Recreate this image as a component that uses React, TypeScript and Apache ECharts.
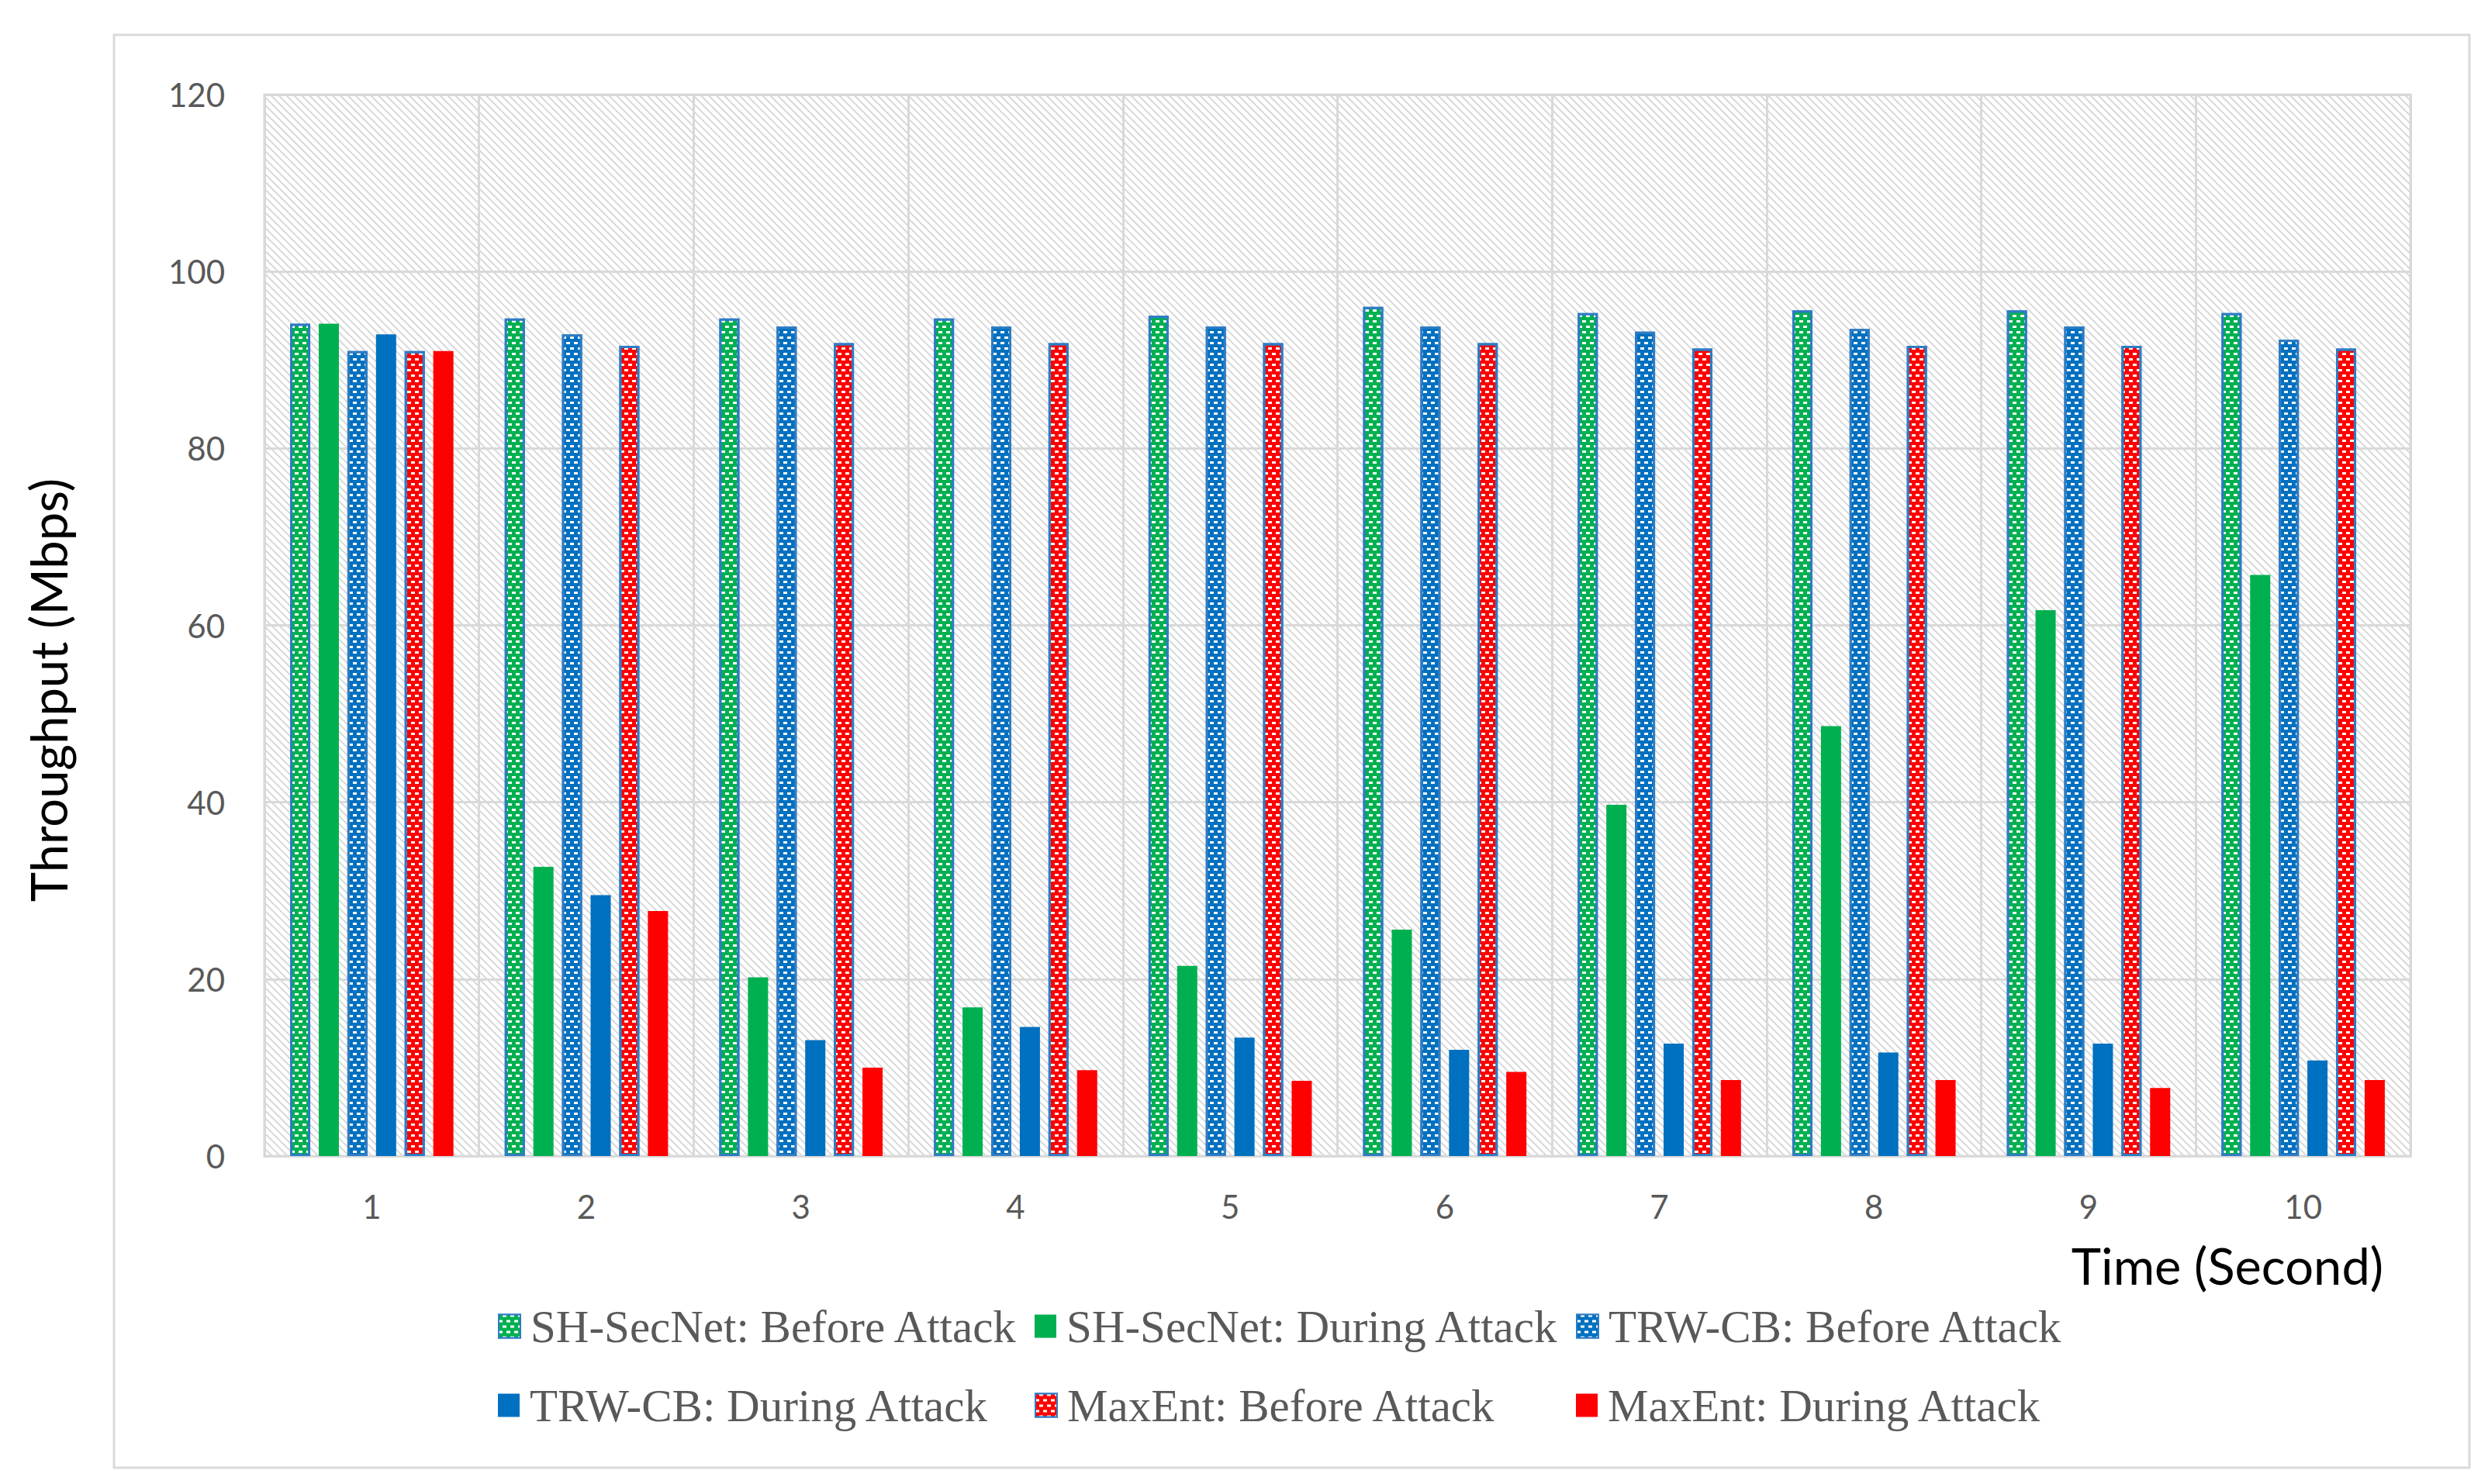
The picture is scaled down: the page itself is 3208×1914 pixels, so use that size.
import React, { useEffect, useRef } from "react";
import * as echarts from "echarts";

const categories = ["1", "2", "3", "4", "5", "6", "7", "8", "9", "10"];
const shSecNetBefore = [94.1, 94.7, 94.7, 94.7, 95.0, 96.0, 95.3, 95.6, 95.6, 95.3];
const shSecNetDuring = [94.1, 32.7, 20.2, 16.8, 21.5, 25.6, 39.7, 48.6, 61.7, 65.7];
const trwCbBefore = [91.0, 92.9, 93.8, 93.8, 93.8, 93.8, 93.2, 93.5, 93.8, 92.3];
const trwCbDuring = [92.9, 29.5, 13.1, 14.6, 13.4, 12.0, 12.7, 11.7, 12.7, 10.8];
const maxEntBefore = [91.0, 91.6, 91.9, 91.9, 91.9, 91.9, 91.3, 91.6, 91.6, 91.3];
const maxEntDuring = [91.0, 27.7, 10.0, 9.7, 8.5, 9.5, 8.6, 8.6, 7.7, 8.6];
const seriesNames = [
  "SH-SecNet: Before Attack",
  "SH-SecNet: During Attack",
  "TRW-CB: Before Attack",
  "TRW-CB: During Attack",
  "MaxEnt: Before Attack",
  "MaxEnt: During Attack",
];
const yMin = 0;
const yMax = 120;
const yInterval = 20;
const backgroundValue = [120];

const GREEN = "#00B050";
const BLUE = "#0070C0";
const RED = "#FF0000";
const BORDER = "#2E7CC4";
const GRID = "#D9D9D9";

export default function App() {
  const ref = useRef<HTMLDivElement>(null);
  useEffect(() => {
    const chart = echarts.init(ref.current!, null, { renderer: "svg" });

    const dotDecal = {
      symbol: "rect",
      symbolSize: 1,
      color: "#ffffff",
      dashArrayX: [
        [5, 5],
        [0, 5, 5, 0],
      ],
      dashArrayY: [3, 4],
      rotation: 0,
    };
    const hatchDecal = {
      symbol: "rect",
      symbolSize: 1,
      color: "#D8D8D8",
      dashArrayX: [1, 0],
      dashArrayY: [2, 5],
      rotation: Math.PI / 4,
    };

    const values = [shSecNetBefore, shSecNetDuring, trwCbBefore, trwCbDuring, maxEntBefore, maxEntDuring];
    const colors = [GREEN, GREEN, BLUE, BLUE, RED, RED];
    const isBefore = [true, false, true, false, true, false];

    const barSeries = values.map((d, i) => ({
      name: seriesNames[i],
      type: "bar",
      xAxisIndex: 0,
      yAxisIndex: 0,
      data: d,
      barWidth: 26,
      barGap: "42%",
      z: 2,
      silent: true,
      itemStyle: isBefore[i]
        ? { color: colors[i], borderColor: BORDER, borderWidth: 3, decal: dotDecal }
        : { color: colors[i], borderWidth: 0 },
    }));

    const legendPos = [
      [642, 1681],
      [1334, 1681],
      [2032, 1681],
      [642, 1783],
      [1334, 1783],
      [2032, 1783],
    ];
    const legends = seriesNames.map((n, i) => ({
      data: [n],
      left: legendPos[i][0],
      top: legendPos[i][1],
      padding: 0,
      itemWidth: 28,
      itemHeight: 30,
      icon: "rect",
      selectedMode: false,
      textStyle: {
        fontFamily: "Liberation Serif",
        fontSize: 59,
        color: "#595959",
        padding: [0, 0, 0, 8],
      },
    }));

    const option: any = {
      animation: false,
      backgroundColor: "#ffffff",
      grid: {
        left: 341,
        right: 100,
        top: 122,
        bottom: 423,
        show: true,
        backgroundColor: "transparent",
        borderColor: GRID,
        borderWidth: 3,
        containLabel: false,
      },
      legend: legends,
      xAxis: [
        {
          type: "category",
          data: categories,
          axisLine: { show: true, lineStyle: { color: GRID, width: 3 } },
          axisTick: { show: false },
          splitLine: { show: true, lineStyle: { color: GRID, width: 3 } },
          axisLabel: {
            fontFamily: "Lato",
            fontSize: 42,
            color: "#595959",
            margin: 44,
          },
        },
        {
          type: "category",
          data: ["bg"],
          show: false,
        },
      ],
      yAxis: {
        type: "value",
        min: yMin,
        max: yMax,
        interval: yInterval,
        axisLine: { show: false },
        axisTick: { show: false },
        splitLine: { show: true, lineStyle: { color: GRID, width: 3 } },
        axisLabel: {
          fontFamily: "Lato",
          fontSize: 42,
          color: "#595959",
          margin: 51,
        },
      },
      series: [
        {
          type: "bar",
          xAxisIndex: 1,
          yAxisIndex: 0,
          data: backgroundValue,
          barWidth: "100%",
          silent: true,
          z: -1,
          itemStyle: { color: "#ffffff", decal: hatchDecal },
        },
        ...barSeries,
      ],
      graphic: [
        {
          type: "rect",
          shape: { x: 147, y: 45, width: 3037, height: 1848 },
          style: { fill: "none", stroke: GRID, lineWidth: 3 },
          silent: true,
        },
        {
          type: "text",
          x: 62,
          y: 890,
          rotation: Math.PI / 2,
          style: {
            text: "Throughput (Mbps)",
            fontFamily: "Lato",
            fontSize: 65,
            fill: "#000000",
            textAlign: "center",
            textVerticalAlign: "middle",
          },
          silent: true,
        },
        {
          type: "text",
          x: 2872,
          y: 1632,
          style: {
            text: "Time (Second)",
            fontFamily: "Lato",
            fontSize: 65,
            fill: "#000000",
            textAlign: "center",
            textVerticalAlign: "middle",
          },
          silent: true,
        },
      ],
    };

    chart.setOption(option);
    return () => chart.dispose();
  }, []);

  return (
    <div
      ref={ref}
      style={{ position: "fixed", left: 0, top: 0, width: 3208, height: 1914, background: "#fff" }}
    />
  );
}
